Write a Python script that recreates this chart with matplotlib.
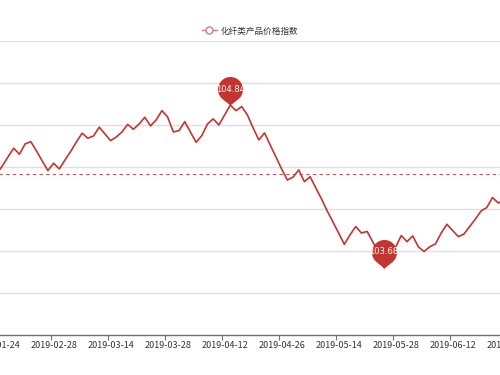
import matplotlib
matplotlib.use('Agg')
import matplotlib.pyplot as plt
from matplotlib.path import Path
from matplotlib.lines import Line2D
import numpy as np

plt.rcParams['font.family'] = ['Noto Sans CJK SC', 'DejaVu Sans']

series_name = '化纤类产品价格指数'

# daily index values, first one is 2019-01-24 (only the part visible in the picture)
values = [
    104.349, 104.406, 104.471, 104.533, 104.490, 104.563, 104.580, 104.513, 104.442, 104.373,
    104.426, 104.385, 104.449, 104.510, 104.578, 104.640, 104.604, 104.620, 104.683, 104.635,
    104.587, 104.613, 104.649, 104.703, 104.668, 104.706, 104.754, 104.692, 104.735, 104.801,
    104.756, 104.649, 104.658, 104.722, 104.649, 104.575, 104.623, 104.706, 104.742, 104.699,
    104.770, 104.840, 104.801, 104.830, 104.770, 104.678, 104.592, 104.642, 104.556, 104.471,
    104.385, 104.306, 104.326, 104.378, 104.294, 104.330, 104.249, 104.171, 104.085, 104.007,
    103.928, 103.847, 103.914, 103.974, 103.928, 103.939, 103.864, 103.792, 103.680, 103.778,
    103.828, 103.910, 103.866, 103.907, 103.828, 103.796, 103.830, 103.850, 103.928, 103.990,
    103.946, 103.902, 103.921, 103.974, 104.028, 104.085, 104.110, 104.181, 104.142, 104.164,
]
tick_labels = ['2019-01-24', '2019-02-28', '2019-03-14', '2019-03-28', '2019-04-12',
               '2019-04-26', '2019-05-14', '2019-05-28', '2019-06-12', '2019-06-26']
label_every = 10
avg_value = 104.35

line_color = '#c23531'
text_color = '#333333'


def pin_marker(r=12.5, d=16.0):
    """Teardrop like the echarts 'pin', tip at (0, 0)."""
    a = np.degrees(np.arccos(r / d))
    t = np.radians(np.linspace(-90 + a, 270 - a, 48))
    verts = [(0, 0)] + [(r * np.cos(x), d + r * np.sin(x)) for x in t] + [(0, 0)]
    return Path(verts, closed=True)


fig = plt.figure(figsize=(5, 3.75), dpi=100)
# the chart is cropped in the picture, so the axes run past the figure edges
ax = fig.add_axes([-20.5 / 500, 40 / 375, 535.8 / 500, 294.3 / 375])

x = np.arange(len(values))
ax.plot(x, values, color=line_color, lw=1.2, zorder=3, clip_on=False)
ax.axhline(avg_value, color=line_color, lw=0.8, ls=(0, (3, 3)), alpha=0.85, zorder=2)

ax.set_xlim(-3, 91)
ax.set_ylim(103.2, 105.3)

# max / min pins
pin = pin_marker()
ms = 2 * 28.5 * 72 / 100
for idx in (int(np.argmax(values)), int(np.argmin(values))):
    ax.plot(idx, values[idx], marker=pin, ms=ms, color=line_color, mew=0,
            zorder=5, clip_on=False)
    ax.annotate(f'{values[idx]:.2f}', (idx, values[idx]), xytext=(0, 16 * 0.72),
                textcoords='offset points', ha='center', va='center',
                color='white', fontsize=6, zorder=6, family='DejaVu Sans')

tick_pos = np.arange(len(tick_labels)) * label_every
ax.set_xticks(tick_pos)
ax.set_xticklabels(tick_labels, fontsize=6.5, color=text_color)
ax.set_xticks(tick_pos - 0.5, minor=True)
ax.tick_params(axis='x', which='major', length=0, pad=4.5)
ax.tick_params(axis='x', which='minor', length=3.5, width=0.8, color='#6e7079')

ax.set_yticks(np.arange(103.5, 105.31, 0.3))
ax.tick_params(axis='y', left=False, labelleft=False)
ax.grid(axis='y', color='#e0e0e0', lw=1)
ax.set_axisbelow(True)

for side in ('top', 'left', 'right'):
    ax.spines[side].set_visible(False)
ax.spines['bottom'].set_color('#6e7079')
ax.spines['bottom'].set_linewidth(1)

handle = Line2D([], [], color='#d47c7a', lw=1, marker='o', ms=5,
                mfc='white', mec='#d47c7a', mew=1)
fig.legend([handle], [series_name], loc='center', bbox_to_anchor=(0.5, 1 - 31 / 375),
           frameon=False, fontsize=6.2, handlelength=1.8, handletextpad=0.4,
           labelcolor=text_color)

fig.savefig('out.png', dpi=100)
